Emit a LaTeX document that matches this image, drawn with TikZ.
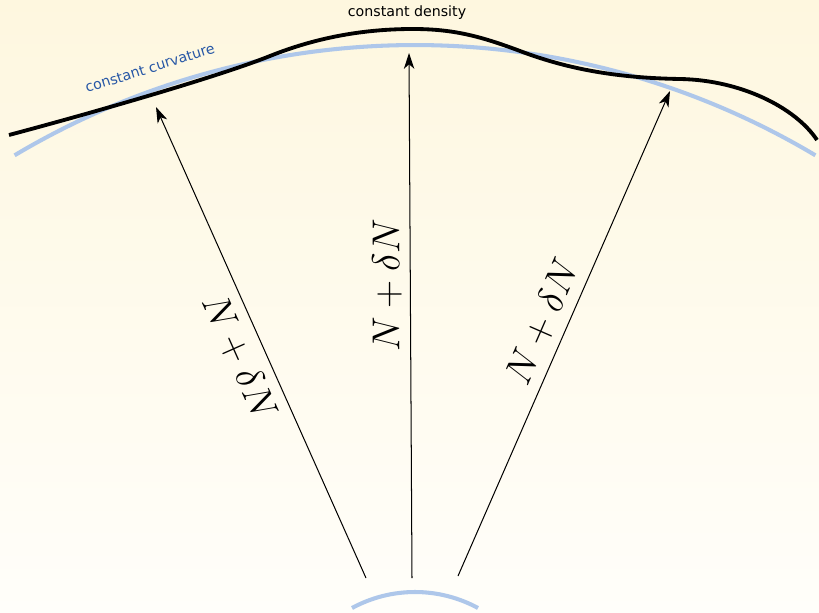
\documentclass[tikz,border=0pt]{standalone}
\usepackage{fontspec}
\setsansfont{DejaVu Sans}
\usepackage{amsmath}
\usepackage{tikz}
\usetikzlibrary{arrows.meta,positioning,calc}
\definecolor{bgtop}{RGB}{254,247,223}
\definecolor{bgbottom}{RGB}{255,254,250}
\definecolor{curveblue}{RGB}{174,199,234}
\definecolor{labelblue}{RGB}{40,88,166}
\tikzset{
  sheet/.style   ={line width=1.8pt, draw=curveblue},
  density/.style ={line width=1.7pt, draw=black},
  ray/.style     ={-{Stealth[length=7pt,width=4.6pt,inset=2pt]}, line width=0.45pt, draw=black},
  nlbl/.style    ={font=\fontsize{17.5}{20}\selectfont, inner sep=0pt},
  tlbl/.style    ={font=\sffamily\fontsize{6.3}{7.5}\selectfont, inner sep=0pt}
}
\begin{document}
\begin{tikzpicture}[x=0.4437pt, y=0.4437pt]
\useasboundingbox (0,0) rectangle (819,612);
\shade[top color=bgtop, bottom color=bgbottom] (0,0) rectangle (819,612);

% ---- constant curvature slices ----
\draw[sheet] (415,-215) ++(120.8:782) arc[start angle=120.8, end angle=59.2, radius=782];
\begin{scope}
\clip (0,0) rectangle (819,612);
\draw[sheet] (415,-112) ++(118.5:132) arc[start angle=118.5, end angle=61.5, radius=132];
\end{scope}
\node[tlbl, text=labelblue, rotate=17.5] (curv) at (150,544) {constant curvature};

% ---- constant density slice ----
\draw[density] (9,477) .. controls (99,501) and (220,536) .. (270,556)
  .. controls (320,576) and (368,583) .. (413,583)
  .. controls (453,583) and (480,576) .. (520,561)
  .. controls (570,542) and (620,534) .. (680,533)
  .. controls (740,532) and (795,505) .. (817,472);
\node[tlbl] (dens) at (407,599) {constant density};

% ---- rays ----
\coordinate (s1) at (366,34);
\coordinate (s2) at (412,34);
\coordinate (s3) at (458,36);
\coordinate (e1) at (156,505);
\coordinate (e2) at (409,559);
\coordinate (e3) at (670,521);
\draw[ray] (s1) -- (e1);
\draw[ray] (s2) -- (e2);
\draw[ray] (s3) -- (e3);
\node[nlbl, rotate=-66] (n1) at (240,255) {$N+\delta N$};
\node[nlbl, rotate=90] (n2) at (387,327) {$N+\delta N$};
\node[nlbl, rotate=66.4] (n3) at (543,290) {$N+\delta N$};
\end{tikzpicture}
\end{document}
